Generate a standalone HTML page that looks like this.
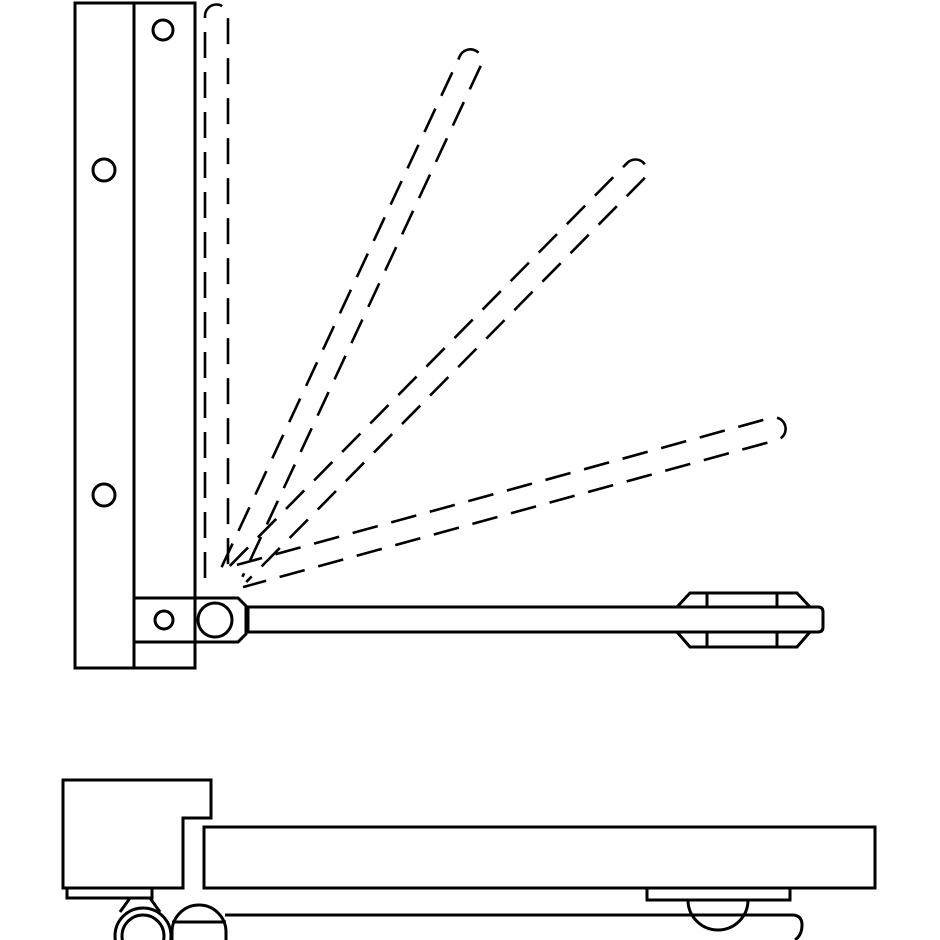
<!DOCTYPE html>
<html><head><style>html,body{margin:0;padding:0;background:#fff}svg{display:block}</style></head>
<body>
<svg width="940" height="940" viewBox="0 0 940 940" xmlns="http://www.w3.org/2000/svg">
<g fill="none" stroke="#000" stroke-width="3">
<rect x="75" y="3" width="120" height="665" fill="#fff"/>
<line x1="134" y1="3" x2="134" y2="668"/>
<line x1="134" y1="598" x2="195" y2="598"/>
<line x1="134" y1="642" x2="195" y2="642"/>
<circle cx="163" cy="30" r="10"/>
<circle cx="104" cy="170" r="11"/>
<circle cx="104" cy="495" r="11"/>
<circle cx="164" cy="620" r="9"/>
<path d="M195 598 H238 L246 606 V634 L238 642 H195 Z" fill="#fff"/>
<circle cx="215" cy="620" r="17"/>
<path d="M248 607 H818 Q823 607 823 612 V627 Q823 632 818 632 H248 Z" fill="#fff"/>
<path d="M677 607 L690 593 H797 L810 607" />
<path d="M677 632 L690 647 H797 L810 632" />
<line x1="707" y1="593" x2="707" y2="607"/><line x1="777" y1="593" x2="777" y2="607"/>
<line x1="707" y1="632" x2="707" y2="647"/><line x1="777" y1="632" x2="777" y2="647"/>
<g stroke-dasharray="26 14" stroke-width="2.6">
<path d="M205 578 V16 A11.5 11.5 0 0 1 228 16 V578"/>
<g transform="translate(232,572) rotate(25)"><path d="M-11.5 0 V-564 A11.5 11.5 0 0 1 11.5 -564 V0"/></g>
<g transform="translate(238,574) rotate(44.6)"><path d="M-11.5 0 V-566 A11.5 11.5 0 0 1 11.5 -566 V0"/></g>
<g transform="translate(240,576) rotate(74.6)"><path d="M-11.5 0 V-554 A11.5 11.5 0 0 1 11.5 -554 V0"/></g>
</g>
<path d="M63 780 H211 V818 H183 V888 H63 Z"/>
<rect x="67" y="888" width="85" height="10"/>
<rect x="204" y="827" width="671" height="61"/>
<rect x="647" y="888" width="143" height="12"/>
<path d="M688 900 A30 30 0 0 0 748 900"/>
<path d="M225 915 H792 Q802 915 802 925 Q802 935 795 940"/>
<path d="M130 898 L120 912"/><path d="M150 898 L160 912"/>
<circle cx="143" cy="936" r="28"/>
<circle cx="143" cy="936" r="21"/>
<path d="M172 940 V932 A27 27 0 0 1 226 932 V940"/>
<line x1="172" y1="922" x2="226" y2="922"/>
</g>
</svg>
</body></html>
